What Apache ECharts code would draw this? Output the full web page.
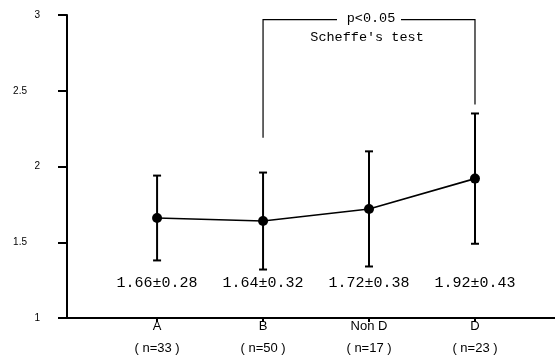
<!DOCTYPE html>
<html><head><meta charset="utf-8">
<script src="https://cdn.jsdelivr.net/npm/echarts@6/dist/echarts.min.js"></script>
<style>html,body{margin:0;padding:0;background:#fff}#c{width:555px;height:360px}</style>
</head><body><div id="c"></div>
<script>
// ---- data ----
const categories = ['A', 'B', 'Non D', 'D'];
const sampleSizes = [33, 50, 17, 23];
const means = [1.66, 1.64, 1.72, 1.92];
const sds = [0.28, 0.32, 0.38, 0.43];
const yTicks = [1, 1.5, 2, 2.5, 3];
const bracketEnds = [1, 3];            // category indices B .. D
const bracketLegBottoms = [2.19, 2.41]; // value where each leg ends
const bracketTop = 2.97;
const bracketTexts = ['p<0.05', "Scheffe's test"];
const labelLevel = 1.23;

const catIdx = categories.map((c, i) => i);
const chart = echarts.init(document.getElementById('c'), null, {renderer: 'canvas'});
const monoFont = '"Liberation Mono", "DejaVu Sans Mono", monospace';

const errData = catIdx.map(i => [i, means[i] - sds[i], means[i] + sds[i], means[i], sds[i]]);

chart.setOption({
  animation: false,
  backgroundColor: '#fff',
  grid: {left: 67, right: 0, top: 15, bottom: 42},
  xAxis: {
    type: 'value', min: -0.85, max: 3.755,
    splitLine: {show: false},
    axisLine: {show: true, onZero: false, lineStyle: {color: '#000', width: 2}},
    axisTick: {show: true, length: 4, customValues: catIdx, lineStyle: {color: '#000', width: 2}},
    axisLabel: {
      customValues: catIdx, margin: 1, color: '#000',
      fontFamily: '"Liberation Sans", Arial, sans-serif', fontSize: 13,
      formatter: v => '{a|' + categories[v] + '}\n{b|( n=' + sampleSizes[v] + ' )}',
      rich: {a: {lineHeight: 14, fontSize: 13, color: '#000'}, b: {lineHeight: 30, fontSize: 13, color: '#000'}}
    }
  },
  yAxis: {
    type: 'value', min: 1, max: 3, interval: 0.5,
    splitLine: {show: false},
    axisLine: {show: true, onZero: false, lineStyle: {color: '#000', width: 2}},
    axisTick: {show: true, length: 9, lineStyle: {color: '#000', width: 2}},
    axisLabel: {
      margin: 27, color: '#000', fontFamily: '"Liberation Sans", Arial, sans-serif', fontSize: 10,
      formatter: v => yTicks.includes(v) ? (Number.isInteger(v) ? '{i|' + v + '}' : '{d|' + v + '}') : '',
      rich: {i: {fontSize: 10, color: '#000'}, d: {fontSize: 10, color: '#000', padding: [0, 13, 0, 0]}}
    }
  },
  series: [
    {
      type: 'custom',
      data: errData,
      z: 3,
      renderItem: function (params, api) {
        const x = api.value(0);
        const lo = api.coord([x, api.value(1)]);
        const hi = api.coord([x, api.value(2)]);
        const lab = api.coord([x, labelLevel]);
        const w = 4;
        const st = {stroke: '#000', lineWidth: 2};
        return {type: 'group', children: [
          {type: 'line', shape: {x1: hi[0], y1: hi[1], x2: lo[0], y2: lo[1]}, style: st},
          {type: 'line', shape: {x1: hi[0] - w, y1: hi[1], x2: hi[0] + w, y2: hi[1]}, style: st},
          {type: 'line', shape: {x1: lo[0] - w, y1: lo[1], x2: lo[0] + w, y2: lo[1]}, style: st},
          {type: 'text', x: lab[0], y: lab[1], style: {
            text: api.value(3).toFixed(2) + '±' + api.value(4).toFixed(2),
            fill: '#000', font: '15px ' + monoFont, align: 'center', verticalAlign: 'middle'}}
        ]};
      }
    },
    {
      type: 'line',
      data: catIdx.map(i => [i, means[i]]),
      z: 4,
      lineStyle: {color: '#000', width: 1.6},
      itemStyle: {color: '#000'},
      symbol: 'circle', symbolSize: 10
    },
    {
      type: 'custom',
      data: [[bracketEnds[0], bracketEnds[1], bracketLegBottoms[0], bracketLegBottoms[1], bracketTop]],
      renderItem: function (params, api) {
        const l = api.coord([api.value(0), api.value(4)]);
        const r = api.coord([api.value(1), api.value(4)]);
        const lb = api.coord([api.value(0), api.value(2)]);
        const rb = api.coord([api.value(1), api.value(3)]);
        const mid = (l[0] + r[0]) / 2;
        const gap = 32;
        const st = {stroke: '#000', lineWidth: 1.2, fill: null};
        return {type: 'group', children: [
          {type: 'polyline', shape: {points: [[lb[0], lb[1]], [l[0], l[1]], [mid - gap, l[1]]]}, style: st},
          {type: 'polyline', shape: {points: [[mid + gap, r[1]], [r[0], r[1]], [rb[0], rb[1]]]}, style: st},
          {type: 'text', x: mid + 2, y: l[1] - 1, style: {text: bracketTexts[0], fill: '#000',
            font: '13.5px ' + monoFont, align: 'center', verticalAlign: 'middle'}},
          {type: 'text', x: mid - 2, y: l[1] + 18, style: {text: bracketTexts[1], fill: '#000',
            font: '13.5px ' + monoFont, align: 'center', verticalAlign: 'middle'}}
        ]};
      }
    }
  ]
});
</script></body></html>
